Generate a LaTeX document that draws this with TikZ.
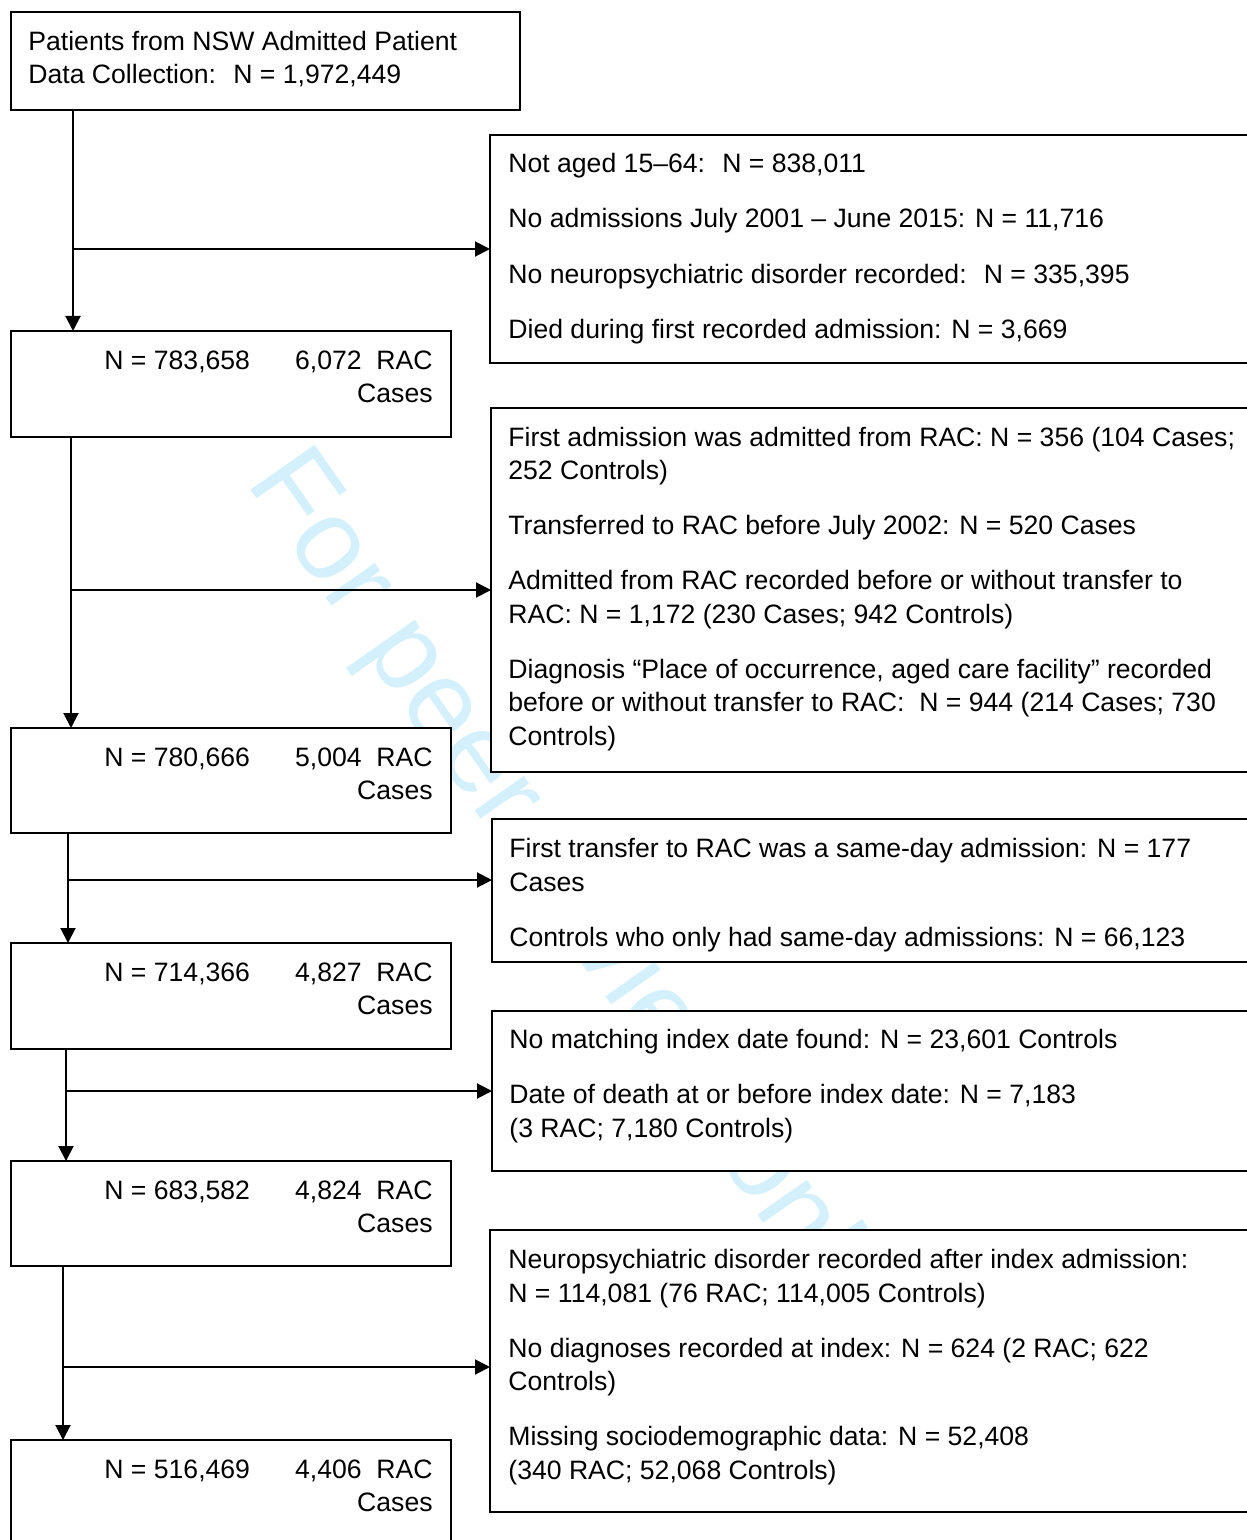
\documentclass[tikz,border=0pt]{standalone}
\usepackage{fontspec}
\setmainfont{Liberation Sans}
\usetikzlibrary{arrows.meta}
\definecolor{wmcol}{RGB}{212,240,252}
\tikzset{
  box/.style={draw=black, line width=1.35pt, fill=white, anchor=north west, inner sep=0pt, outer sep=0pt},
  txt/.style={inner sep=0pt, align=left, anchor=base west, font=\fontsize{13.3pt}{16.75pt}\selectfont},
  rtxt/.style={inner sep=0pt, anchor=base east, font=\fontsize{13.3pt}{16.75pt}\selectfont},
  flow/.style={line width=1pt, -{Triangle[length=7.5pt,width=7.5pt]}},
  wmark/.style={inner sep=0pt, anchor=base west, rotate=-55, text=wmcol, font=\fontsize{57pt}{60pt}\selectfont},
}
\newcommand{\pgap}{\\[10.75pt]}
\begin{document}
\begin{tikzpicture}[x=0.5pt,y=-0.5pt]
\useasboundingbox (0,0) rectangle (1246,1540);
% watermark
\node[wmark] (wm) at (245,482) {For peer review only};

% main boxes
\node[box, minimum width=254.5pt, minimum height=49pt] (A) at (11,12) {};
\node[box, minimum width=220pt, minimum height=53pt] (B) at (11,331) {};
\node[box, minimum width=220pt, minimum height=52.5pt] (C) at (11,728) {};
\node[box, minimum width=220pt, minimum height=53pt] (D) at (11,943) {};
\node[box, minimum width=220pt, minimum height=52.5pt] (E) at (11,1161) {};
\node[box, minimum width=220pt, minimum height=80pt] (F) at (11,1440) {};

% exclusion boxes
\node[box, minimum width=395pt, minimum height=114pt] (R1) at (490,135) {};
\node[box, minimum width=395pt, minimum height=182pt] (R2) at (491,408) {};
\node[box, minimum width=395pt, minimum height=71.5pt] (R3) at (492,819) {};
\node[box, minimum width=395pt, minimum height=80pt] (R4) at (492,1011) {};
\node[box, minimum width=395pt, minimum height=141pt] (R5) at (490,1230) {};

% texts (multi-line nodes are placed by the baseline of their last line)
\node[txt] (tA) at (28,84) {Patients from NSW Admitted Patient\\Data Collection:~ N = 1,972,449};

\node[txt] (tB1) at (104,369) {N = 783,658};
\node[rtxt] (tB2) at (433,369) {6,072~ RAC};
\node[rtxt] (tB3) at (433,402) {Cases};

\node[txt] (tC1) at (104,766) {N = 780,666};
\node[rtxt] (tC2) at (433,766) {5,004~ RAC};
\node[rtxt] (tC3) at (433,799) {Cases};

\node[txt] (tD1) at (104,981) {N = 714,366};
\node[rtxt] (tD2) at (433,981) {4,827~ RAC};
\node[rtxt] (tD3) at (433,1014) {Cases};

\node[txt] (tE1) at (104,1199) {N = 683,582};
\node[rtxt] (tE2) at (433,1199) {4,824~ RAC};
\node[rtxt] (tE3) at (433,1232) {Cases};

\node[txt] (tF1) at (104,1478) {N = 516,469};
\node[rtxt] (tF2) at (433,1478) {4,406~ RAC};
\node[rtxt] (tF3) at (433,1511) {Cases};

\node[txt] (tR1) at (508,338) {Not aged 15–64:~ N = 838,011\pgap
No admissions July 2001 – June 2015: N = 11,716\pgap
No neuropsychiatric disorder recorded:~ N = 335,395\pgap
Died during first recorded admission: N = 3,669};

\node[txt] (tR2) at (508,745) {First admission was admitted from RAC: N = 356 (104 Cases;\\
252 Controls)\pgap
Transferred to RAC before July 2002: N = 520 Cases\pgap
Admitted from RAC recorded before or without transfer to\\
RAC: N = 1,172 (230 Cases; 942 Controls)\pgap
Diagnosis “Place of occurrence, aged care facility” recorded\\
before or without transfer to RAC:~ N = 944 (214 Cases; 730\\
Controls)};

\node[txt] (tR3) at (509,946) {First transfer to RAC was a same-day admission: N = 177\\
Cases\pgap
Controls who only had same-day admissions: N = 66,123};

\node[txt] (tR4) at (509,1137) {No matching index date found: N = 23,601 Controls\pgap
Date of death at or before index date: N = 7,183\\
(3 RAC; 7,180 Controls)};

\node[txt] (tR5) at (508,1479) {Neuropsychiatric disorder recorded after index admission:\\
N = 114,081 (76 RAC; 114,005 Controls)\pgap
No diagnoses recorded at index: N = 624 (2 RAC; 622\\
Controls)\pgap
Missing sociodemographic data: N = 52,408\\
(340 RAC; 52,068 Controls)};

% connectors
\coordinate (j1) at (73,249);
\coordinate (j2) at (71,590);
\coordinate (j3) at (68,880);
\coordinate (j4) at (66,1091);
\coordinate (j5) at (63,1367);
\draw[flow] (j1 |- A.south) -- (j1 |- B.north);
\draw[flow] (j1) -- (j1 -| R1.west);
\draw[flow] (j2 |- B.south) -- (j2 |- C.north);
\draw[flow] (j2) -- (j2 -| R2.west);
\draw[flow] (j3 |- C.south) -- (j3 |- D.north);
\draw[flow] (j3) -- (j3 -| R3.west);
\draw[flow] (j4 |- D.south) -- (j4 |- E.north);
\draw[flow] (j4) -- (j4 -| R4.west);
\draw[flow] (j5 |- E.south) -- (j5 |- F.north);
\draw[flow] (j5) -- (j5 -| R5.west);
\end{tikzpicture}
\end{document}
